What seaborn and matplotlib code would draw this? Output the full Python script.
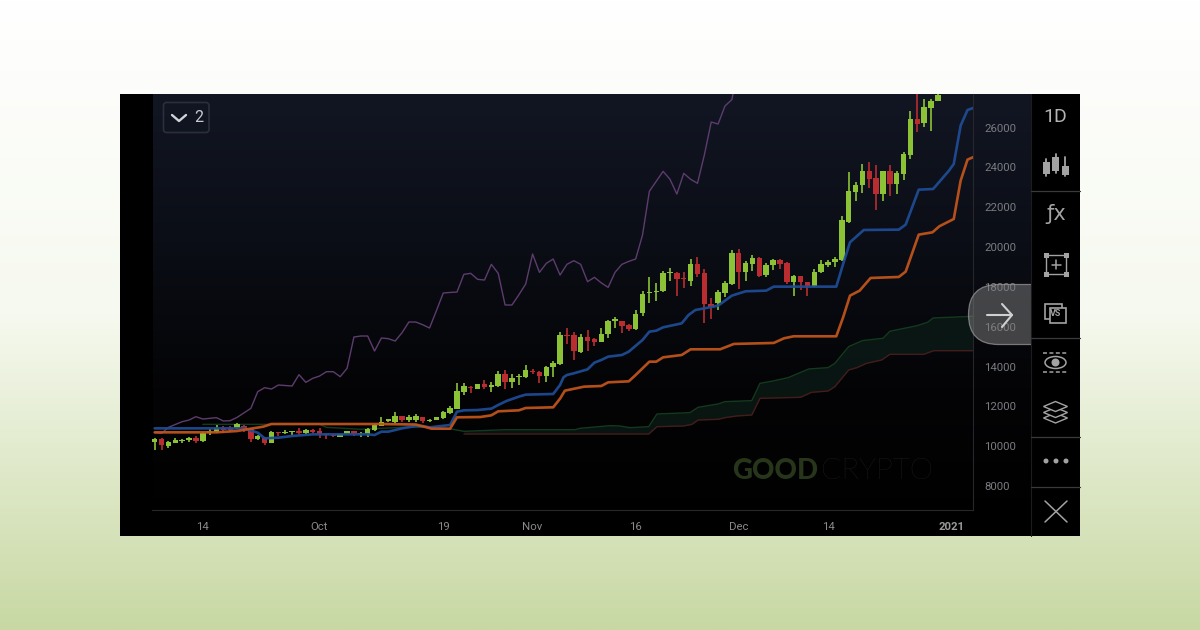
import numpy as np
import pandas as pd
import matplotlib
matplotlib.use("Agg")
import matplotlib.pyplot as plt
import seaborn as sns
from matplotlib.colors import LinearSegmentedColormap
from matplotlib.patches import FancyBboxPatch, Rectangle, Polygon, Ellipse, Circle

# ---- candle values, one per day from 7 Sep 2020 -------------------------
opens = [10212,10363,10012,10179,10262,10329,10413,10262,10647,10698,10898,10898,10898,11032,10848,10346,10413,10179,10714,10664,10697,10764,10647,10797,10764,10580,10563,10480,10614,10748,10597,10614,10814,11032,11266,11233,11500,11316,11316,11467,11283,11333,11434,11668,11885,12739,12990,12874,13108,12974,13024,13610,13242,13476,13493,13794,13727,13526,13994,14112,15584,15567,14748,15467,15366,15249,15634,16303,16287,16069,15885,16671,17675,17759,17792,18679,18712,18461,18311,19164,18712,17123,17173,17675,18127,19685,18765,19150,19451,18614,19099,19367,19200,18246,18530,18229,18029,18732,19099,19233,19350,21274,22747,23098,23801,23449,22646,23801,23148,23667,24637,26427,26210,26979,27314]
closes = [10346,10078,10212,10296,10329,10413,10262,10647,10764,10898,10814,10831,11099,10865,10363,10513,10179,10731,10647,10731,10748,10647,10814,10731,10597,10547,10513,10614,10748,10630,10614,10881,11049,11233,11350,11534,11333,11484,11500,11283,11333,11467,11735,11935,12772,13023,12906,13108,12974,13091,13627,13242,13443,13526,13811,13710,13543,13994,14162,15567,15550,14798,15500,15300,15232,15651,16270,16387,16036,15902,16655,17658,17759,17809,18679,18746,18378,18411,19164,18646,17123,17006,17725,18177,19716,18732,19200,19451,18564,19116,19367,19150,18230,18530,18230,18062,18765,19133,19267,19417,21358,22797,23115,23801,23416,22663,23801,23165,23717,24671,26411,26176,27013,27347,27650]
highs = [10396,10396,10279,10396,10346,10447,10530,10698,10848,11065,10999,10999,11183,11065,10898,10547,10480,10781,10714,10814,10764,10898,10848,10848,10898,10597,10597,10630,10764,10764,10698,10915,11116,11450,11383,11701,11500,11551,11601,11467,11383,11467,11785,12019,13190,13157,13007,13140,13325,13208,13777,13827,13627,13643,14061,13861,13794,14045,14279,15718,15919,15751,15634,15835,15417,15952,16337,16487,16287,16136,16839,17809,18478,18177,18813,18963,18729,18763,19415,19482,18880,17424,17842,18311,19850,19886,19317,19585,19518,19183,19400,19417,19233,18597,18564,18263,18899,19367,19367,19518,21542,23750,23249,24169,24252,24118,23801,24118,23801,24788,26812,27900,27431,27431,27900]
lows = [9811,9811,9928,10145,10162,10229,10162,10229,10580,10647,10681,10714,10865,10714,10229,10296,10078,10162,10513,10597,10547,10580,10614,10647,10396,10363,10446,10463,10597,10530,10480,10480,10764,11015,11233,11183,11233,11233,11216,11166,11199,11316,11367,11601,11852,12571,12688,12856,12874,12723,12991,12857,12941,13091,13409,13610,13158,13242,13476,14078,15132,14312,14681,14764,15032,15216,15450,15919,15668,15768,15835,16521,17207,17307,17725,18311,17558,17960,18026,18478,16169,16370,16839,17508,18094,17895,18313,18815,18514,18480,18848,18899,18146,17560,17845,17527,18012,18681,18982,18999,19284,21224,22295,22713,22964,21860,22328,22579,22663,23366,24420,25758,26043,25808,27314]

# ---- indicator lines: (day index, price) --------------------------------
blue_day = [0,13,15,16,18,20,23,31,32,33,34,36,38,39,40,43,44,45,47,49,50,51.2,53,54,58,59,59.5,60,61,63,64,65,66,68,69,71,72,73,74,76.7,77.7,78.7,80,82,84,86,89,90.1,99.2,100.2,101.2,103.2,108.3,109.3,111.2,113.3,115.6,116.3,117.3,118.3,119.4]
blue_val = [10898,10898,10680,10396,10430,10513,10597,10597,10563,10731,10731,10898,11015,11015,10948,11066,11735,11802,11818,11887,12071,12272,12489,12590,12623,13075,13460,13577,13660,13860,14196,14330,14497,14580,14748,15333,15751,15801,15969,16169,16588,16839,16922,17056,17560,17778,17811,18012,18012,19150,20237,20856,20873,21124,22880,22914,23834,24169,26093,26879,27013]
orange_day = [0,9,12,13.4,15.8,17,32.3,38,39.6,40.3,43,44,47.4,49,50,53,54,58,59,59.7,62.5,65,66,69,70,72,73,74,76.7,78,82.3,84.3,90.1,91.6,93,99.2,100.2,101.2,102.6,104.2,108.3,109.3,111.2,113.2,114.2,116.3,117.3,118.3,119.4]
orange_val = [10698,10698,10764,10848,10982,11116,11116,11090,10948,10881,10881,11452,11467,11552,11753,11803,11920,11954,12389,12790,12991,13024,13208,13258,13576,14245,14245,14463,14580,14865,14867,15135,15185,15419,15519,15519,16473,17560,17811,18447,18497,18765,20622,20739,21040,21408,23332,24386,24553]
purple_day = [0,1,2,4,5,6,7,9,10,11,12,14,15,16,17,18,20,21,22,23,24,25,26,27,28,29,30,31,32,33,34,35,36,37,38,39,40,41,42,43,44,45,46,47,48,49,50,51,52,53,54,55,56,57,58,59,60,61,62,63,64,65,66,67,68,69,70,71,72,73,74,75,76,77,78,79,80,81,82,83,84,85]
purple_val = [10681,10647,10948,11233,11316,11484,11366,11434,11266,11283,11450,11902,12739,12939,12872,13073,13023,13592,13207,13408,13525,13742,13742,13491,13910,15483,15533,15533,14780,15433,15400,15282,15700,16236,16236,16100,15935,16800,17692,17720,17742,18629,18679,18378,18344,19131,18679,17090,17090,17600,18144,19649,18729,19181,19398,18595,19131,19315,19131,18261,18478,18200,17976,18729,19131,19280,19398,20600,22800,23300,23800,23400,22660,23700,23400,23200,24620,26276,26176,27079,27400,29000]
cloud_top_day = [7,24,25,30,36,41,43.2,45,51.2,61.2,61.9,66.3,67.7,69.2,71.9,73.1,77.9,79.1,82,83,86.9,88.1,90,92.2,93.7,95.2,98,99,101,103,106,107,111,112.5,113.3,119.1]
cloud_top_val = [11099,11099,10948,10850,10948,10948,10865,10748,10832,10832,10899,11033,11016,10932,10983,11618,11686,11954,12121,12238,12288,13158,13275,13443,13660,13878,13945,14162,14999,15302,15419,15770,16055,16222,16440,16523]
cloud_bot_day = [45,71.9,73.1,77,78.2,79.1,82,83,84.7,86.9,88.1,94,95.6,98,99,101,102.2,103.6,105.8,107,111.9,113.4,119.1]
cloud_bot_val = [10614,10614,10983,11017,11100,11318,11351,11435,11519,11569,12405,12456,12706,12773,12991,13827,13945,14162,14329,14614,14614,14798,14798]

y_ticks = [8000,10000,12000,14000,16000,18000,20000,22000,24000,26000]
x_tick_days = [7,24,42,55,70,85,98,116]
x_tick_labels = ["14","Oct","19","Nov","16","Dec","14","2021"]

W, H = 1200, 630
sns.set_theme(style="dark")
plt.rcParams["font.family"] = ["Roboto", "DejaVu Sans"]
fig = plt.figure(figsize=(12, 6.3), dpi=100, facecolor="white")

def px_axes(x0, y0, x1, y1, **kw):
    return fig.add_axes([x0 / W, 1 - y1 / H, (x1 - x0) / W, (y1 - y0) / H], **kw)

# ---- page, phone screen and chart backdrop -------------------------------
bg = px_axes(0, 0, W, H, zorder=0)
page = LinearSegmentedColormap.from_list("page", ["#ffffff", "#f6f9ef", "#c8d8a3"])
bg.imshow(np.linspace(0, 1, 256)[:, None], extent=(0, W, H, 0), cmap=page, aspect="auto", zorder=0)
bg.add_patch(Rectangle((120, 94), 960, 442, fc="black", ec="none", zorder=1))
chart_bg = LinearSegmentedColormap.from_list("chart", ["#121623", "#0b0e16", "#040406", "#000000"])
bg.imshow(np.linspace(0, 1, 256)[:, None], extent=(153, 1031, 536, 94), cmap=chart_bg, aspect="auto", zorder=2)
bg.set_xlim(0, W); bg.set_ylim(H, 0); bg.axis("off")

# ---- the price chart ------------------------------------------------------
ax = px_axes(152, 94, 973, 510, zorder=2)
ax.set_facecolor("none")
days = np.arange(len(opens))
frame = pd.DataFrame({"day": days, "open": opens, "close": closes, "high": highs, "low": lows})
up = frame[frame["close"] >= frame["open"]]
down = frame[frame["close"] < frame["open"]]
GREEN, RED = "#8cc236", "#b92d30"
for part, colour in ((up, GREEN), (down, RED)):
    ax.vlines(part["day"], part["low"], part["high"], color=colour, lw=1.2, zorder=3)
    ax.bar(part["day"], (part["close"] - part["open"]).abs().clip(lower=45), bottom=part[["open", "close"]].min(axis=1),
           width=0.8, color=colour, linewidth=0, zorder=3)

cx = np.union1d(cloud_top_day, cloud_bot_day)
cx = cx[cx >= 45]
ax.fill_between(cx, np.interp(cx, cloud_bot_day, cloud_bot_val), np.interp(cx, cloud_top_day, cloud_top_val),
                color="#0c1f19", alpha=0.65, linewidth=0, zorder=2)
sns.lineplot(x=purple_day, y=purple_val, ax=ax, color="#5d3c6e", lw=1.0, estimator=None, sort=False, zorder=2.5)
sns.lineplot(x=cloud_top_day, y=cloud_top_val, ax=ax, color="#143a1e", lw=1.0, estimator=None, sort=False, zorder=2.5)
sns.lineplot(x=cloud_bot_day, y=cloud_bot_val, ax=ax, color="#451c1c", lw=1.0, estimator=None, sort=False, zorder=2.5)
sns.lineplot(x=blue_day, y=blue_val, ax=ax, color="#1f4d97", lw=1.9, alpha=0.92, estimator=None, sort=False, zorder=4)
sns.lineplot(x=orange_day, y=orange_val, ax=ax, color="#c5561c", lw=1.9, alpha=0.92, estimator=None, sort=False, zorder=4.5)

ax.set_xlim(-0.39, 119.1)
ax.set_ylim(6799, 27682)
ax.set_xlabel(""); ax.set_ylabel("")
ax.grid(False)
ax.yaxis.tick_right()
ax.set_yticks(y_ticks)
ax.set_yticklabels([str(v) for v in y_ticks], fontsize=8.2, color="#7b7b80")
ax.set_xticks(x_tick_days)
ax.set_xticklabels(x_tick_labels, fontsize=8.2, color="#8a8a8e")
ax.get_xticklabels()[-1].set_fontweight("bold")
ax.get_xticklabels()[-1].set_color("#9a9a9a")
ax.tick_params(axis="both", length=0)
ax.tick_params(axis="y", pad=8)
ax.tick_params(axis="x", pad=9)
for side in ("top", "left"):
    ax.spines[side].set_visible(False)
for side in ("right", "bottom"):
    ax.spines[side].set_color("#26262b")
    ax.spines[side].set_linewidth(0.8)

# ---- app chrome, drawn in pixel coordinates --------------------------------
ui = px_axes(0, 0, W, H, zorder=3)
ui.set_xlim(0, W); ui.set_ylim(H, 0); ui.axis("off")
ui.patch.set_alpha(0)
UI = "#a3a3a3"
# logo
ui.text(732, 471, "GOOD", fontsize=20, fontweight="black", color="#27351a", family="Lato", va="center", ha="left")
ui.text(821, 471, "CRYPTO", fontsize=21.5, fontweight="light", color="#252528", family="Lato", va="center", ha="left")
# button with the "2"
ui.add_patch(FancyBboxPatch((163.5, 102.5), 45.5, 30, boxstyle="round,pad=0,rounding_size=3", fc="none", ec="#2b2f3b", lw=1.2))
ui.plot([172, 179, 186], [115, 121, 115], color="#d0d2d8", lw=1.7)
ui.text(198.5, 117.5, "2", fontsize=11.5, color="#c8cad0", ha="center", va="center")
# arrow tab
ui.add_patch(FancyBboxPatch((968.5, 284.5), 110, 60, boxstyle="round,pad=0,rounding_size=30", fc=(0.5, 0.5, 0.5, 0.5), ec=(0.62, 0.62, 0.62, 0.7), lw=0.9))
# sidebar
ui.add_patch(Rectangle((1031, 94), 49, 442, fc="black", ec="none"))
ui.plot([1031, 1031], [94, 536], color="#1c1c1e", lw=0.8)
for y in (191, 338, 437, 487):
    ui.plot([1031, 1080], [y, y], color="#3a3a3c", lw=0.9)
ui.plot([987, 1012, 1002], [315, 315, 304], color="#d0d0d0", lw=1.5, solid_capstyle="round")
ui.plot([1012, 1002], [315, 327], color="#d0d0d0", lw=1.5, solid_capstyle="round")
# 1D
ui.text(1055.5, 116.5, "1D", fontsize=14, color="#b4b4b4", ha="center", va="center")
# candle icon
for x, hi, top, bot, lo in ((1046, 159, 162, 174, 176), (1055.5, 154, 157, 171, 173), (1065, 157, 166, 175, 176)):
    ui.plot([x, x], [hi, lo], color=UI, lw=1.3)
    ui.add_patch(Rectangle((x - 3.5, top), 7, bot - top, fc=UI, ec="none"))
# fx
ui.text(1056, 214, "\u0192x", fontsize=15, color=UI, ha="center", va="center", family="DejaVu Sans")
# bracket
ui.add_patch(Rectangle((1046, 255), 20, 19, fc="none", ec=UI, lw=1.0))
for x in (1046, 1066):
    for y in (255, 274):
        ui.add_patch(Rectangle((x - 2.5, y - 2.5), 5, 5, fc=UI, ec="none"))
ui.plot([1056, 1056], [260, 269], color=UI, lw=1.1)
ui.plot([1051.5, 1060.5], [264.5, 264.5], color=UI, lw=1.1)
# VS
ui.add_patch(Rectangle((1045, 304), 17, 15, fc="black", ec=UI, lw=1.2))
ui.add_patch(Rectangle((1050, 308), 16, 15, fc="black", ec=UI, lw=1.2))
ui.text(1056, 314, "VS", fontsize=6.5, fontweight="bold", color=UI, ha="center", va="center")
# eye
ui.plot([1043, 1068], [353, 353], color=UI, lw=1.1, ls=(0, (2.6, 1.6)))
ui.plot([1043, 1068], [372, 372], color=UI, lw=1.1, ls=(0, (2.6, 1.6)))
ui.add_patch(Ellipse((1055.5, 362.5), 21, 12, fc="none", ec=UI, lw=1.1))
ui.add_patch(Circle((1055.5, 362.5), 4.0, fc=UI, ec="none"))
# layers
for y in (401.5, 407.5, 413):
    ui.add_patch(Polygon([[1043.5, y + 5], [1055.5, y], [1067.5, y + 5], [1055.5, y + 10]], closed=True, fc="black", ec=UI, lw=1.0, zorder=5 - y / 1000))
# dots
for x in (1046, 1056, 1066):
    ui.add_patch(Circle((x, 461), 2.5, fc=UI, ec="none"))
# close
ui.plot([1045, 1067], [501, 522], color=UI, lw=1.1)
ui.plot([1067, 1045], [501, 522], color=UI, lw=1.1)

fig.savefig("out.png", dpi=100)
